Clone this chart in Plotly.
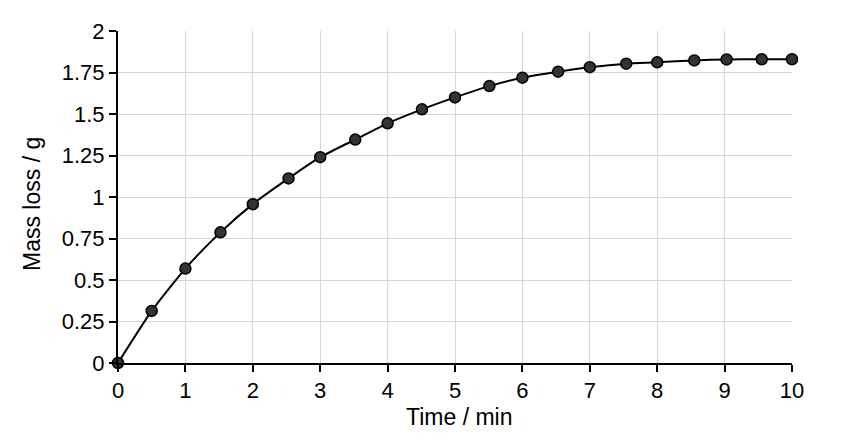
import plotly.graph_objects as go

# values
time_min = [0, 0.5, 1.0, 1.52, 2.0, 2.53, 3.0, 3.52, 4.0, 4.51, 5.0,
            5.51, 6.0, 6.53, 7.0, 7.54, 8.0, 8.55, 9.03, 9.55, 10.0]
mass_loss_g = [0, 0.314, 0.569, 0.787, 0.957, 1.112, 1.240, 1.346, 1.444, 1.528, 1.600,
               1.668, 1.719, 1.755, 1.782, 1.803, 1.811, 1.823, 1.829, 1.830, 1.830]

y_ticks = [0, 0.25, 0.5, 0.75, 1, 1.25, 1.5, 1.75, 2]
y_labels = ["0", "0.25", "0.5", "0.75", "1", "1.25", "1.5", "1.75", "2"]
x_ticks = list(range(0, 11))

font = "Liberation Sans, Arial, sans-serif"

fig = go.Figure()

fig.add_trace(go.Scatter(
    x=time_min, y=mass_loss_g,
    mode="lines+markers",
    line=dict(color="black", width=2, shape="spline", smoothing=0.6),
    marker=dict(size=11, color="#333333", line=dict(color="black", width=1.5)),
    cliponaxis=False,
    showlegend=False,
))

axis_common = dict(
    showline=True, linecolor="black", linewidth=2,
    ticks="outside", ticklen=7, tickwidth=2, tickcolor="black",
    showgrid=True, gridcolor="#d6d6d6", gridwidth=1,
    zeroline=False,
    tickfont=dict(family=font, size=22, color="black"),
)

fig.update_xaxes(range=[0, 10], tickvals=x_ticks, **axis_common)
fig.update_yaxes(range=[0, 2], tickvals=y_ticks, ticktext=y_labels, **axis_common)

# axis titles as annotations so they sit where the reference has them
fig.add_annotation(text="Time / min", xref="paper", yref="paper", x=0.506, y=0,
                   yshift=-54, xanchor="center", yanchor="middle", showarrow=False,
                   font=dict(family=font, size=23, color="black"))
fig.add_annotation(text="Mass loss / g", xref="paper", yref="paper", x=0, y=0.479,
                   xshift=-86, xanchor="center", yanchor="middle", textangle=-90,
                   showarrow=False, font=dict(family=font, size=23, color="black"))

# page body has an 8px margin, so the figure is 16px smaller than the window
fig.update_layout(
    width=838, height=432,
    margin=dict(l=110, r=54, t=23, b=77),
    plot_bgcolor="white", paper_bgcolor="white",
    font=dict(family=font, color="black"),
)

fig.write_html("out.html")
